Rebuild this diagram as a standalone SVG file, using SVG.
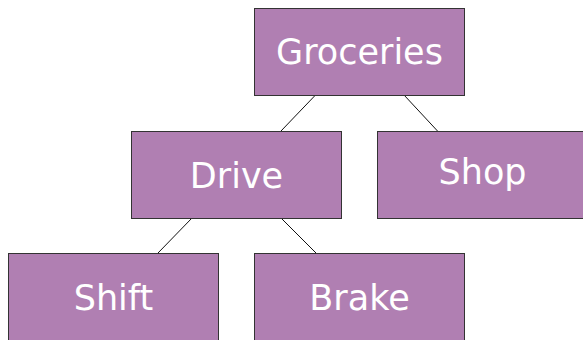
<svg xmlns="http://www.w3.org/2000/svg" width="583" height="340" viewBox="0 0 583 340">
<style>
.n rect{fill:#b07fb2;stroke:#333;stroke-width:1}
.n text{fill:#fff;font-family:"DejaVu Sans",sans-serif;font-size:35px;text-anchor:middle}
.c line{stroke:#111;stroke-width:1}
</style>
<rect width="583" height="340" fill="#fff"/>
<g class="c" id="connectors">
<line x1="315.5" y1="95" x2="281" y2="131"/>
<line x1="404" y1="95" x2="437.5" y2="131"/>
<line x1="192" y1="218" x2="158" y2="253"/>
<line x1="281" y1="218" x2="316" y2="253"/>
</g>
<g class="n" id="groceries"><rect x="254.5" y="8.5" width="210" height="87"/><text x="359.5" y="64">Groceries</text></g>
<g class="n" id="drive"><rect x="131.5" y="131.5" width="210" height="87"/><text x="236.5" y="188">Drive</text></g>
<g class="n" id="shop"><rect x="377.5" y="131.5" width="210" height="87"/><text x="482.5" y="184">Shop</text></g>
<g class="n" id="shift"><rect x="8.5" y="253.5" width="210" height="87"/><text x="113.5" y="310">Shift</text></g>
<g class="n" id="brake"><rect x="254.5" y="253.5" width="210" height="87"/><text x="359.5" y="310">Brake</text></g>
</svg>
